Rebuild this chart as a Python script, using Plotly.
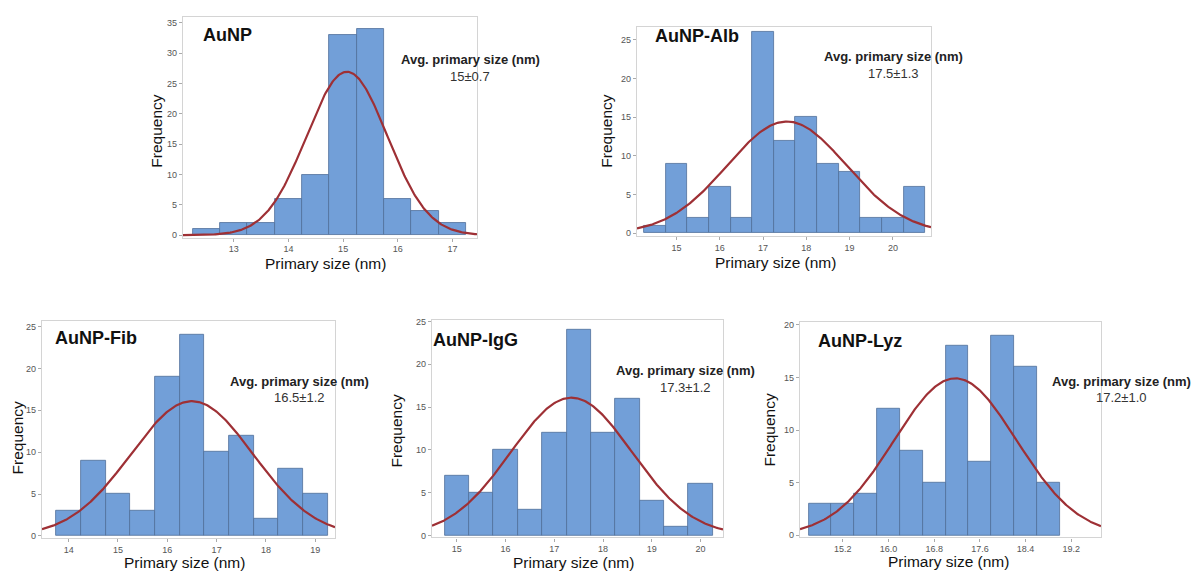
import numpy as np
import plotly.graph_objects as go

# The page body has an 8px default margin; the figure is drawn inside it.
OFF = 8
W, H = 1202 - OFF, 578 - OFF

# ---------------- data ----------------
names = ["AuNP", "AuNP-Alb", "AuNP-Fib", "AuNP-IgG", "AuNP-Lyz"]
avg_text = ["15±0.7", "17.5±1.3", "16.5±1.2", "17.3±1.2", "17.2±1.0"]

aunp_centers = [12.5, 13.0, 13.5, 14.0, 14.5, 15.0, 15.5, 16.0, 16.5, 17.0]
aunp_counts = [1, 2, 2, 6, 10, 33, 34, 6, 4, 2]

alb_centers = [14.5, 15.0, 15.5, 16.0, 16.5, 17.0, 17.5, 18.0, 18.5, 19.0, 19.5, 20.0, 20.5]
alb_counts = [1, 9, 2, 6, 2, 26, 12, 15, 9, 8, 2, 2, 6]

fib_centers = [14.0, 14.5, 15.0, 15.5, 16.0, 16.5, 17.0, 17.5, 18.0, 18.5, 19.0]
fib_counts = [3, 9, 5, 3, 19, 24, 10, 12, 2, 8, 5]

igg_centers = [15.0, 15.5, 16.0, 16.5, 17.0, 17.5, 18.0, 18.5, 19.0, 19.5, 20.0]
igg_counts = [7, 5, 10, 3, 12, 24, 12, 16, 4, 1, 6]

lyz_centers = [14.8, 15.2, 15.6, 16.0, 16.4, 16.8, 17.2, 17.6, 18.0, 18.4, 18.8]
lyz_counts = [3, 3, 4, 12, 8, 5, 18, 7, 19, 16, 5]

bin_widths = [0.5, 0.5, 0.5, 0.5, 0.4]
fit_means = [15.07, 17.55, 16.5, 17.35, 17.17]
fit_sds = [0.74, 1.38, 1.24, 1.24, 1.07]

x_ticks = [
    [13, 14, 15, 16, 17],
    [15, 16, 17, 18, 19, 20],
    [14, 15, 16, 17, 18, 19],
    [15, 16, 17, 18, 19, 20],
    [15.2, 16.0, 16.8, 17.6, 18.4, 19.2],
]
x_tick_text = [
    ["13", "14", "15", "16", "17"],
    ["15", "16", "17", "18", "19", "20"],
    ["14", "15", "16", "17", "18", "19"],
    ["15", "16", "17", "18", "19", "20"],
    ["15.2", "16.0", "16.8", "17.6", "18.4", "19.2"],
]
y_ticks = [
    [0, 5, 10, 15, 20, 25, 30, 35],
    [0, 5, 10, 15, 20, 25],
    [0, 5, 10, 15, 20, 25],
    [0, 5, 10, 15, 20, 25],
    [0, 5, 10, 15, 20],
]

centers_all = [aunp_centers, alb_centers, fib_centers, igg_centers, lyz_centers]
counts_all = [aunp_counts, alb_counts, fib_counts, igg_counts, lyz_counts]

# ---------------- layout geometry (page pixels) ----------------
frames = [
    (183, 477, 14, 237),
    (637, 931, 24, 235),
    (42, 335, 321, 541),
    (432, 723, 320, 540),
    (800, 1101, 322, 540),
]
x_ranges = [(12.07, 17.45), (14.09, 20.88), (13.46, 19.40), (14.49, 20.46), (14.45, 19.72)]
y_ranges = [(-0.4, 36.0), (-0.3, 26.7), (-0.3, 25.7), (-0.23, 25.2), (-0.2, 20.3)]

title_pos = [(201, 32), (653, 33), (53, 338), (431, 340), (816, 342)]
avg_pos = [(470, 57), (893, 54), (299, 382), (685, 371), (1121, 382)]
xlab_pos = [(325, 263), (775, 262), (184, 565), (573, 565), (949, 564)]
ylab_pos = [(157, 130), (607, 130), (17, 440), (397, 433), (770, 432)]

BAR_FILL = "#729fd8"
BAR_LINE = "#4f6f99"
CURVE = "#9e3035"
FRAME = "#d4d4d4"
FONT = "Liberation Sans, Arial, sans-serif"


def px(x):
    return (x - OFF) / W


def py(y):
    return 1 - (y - OFF) / H


fig = go.Figure()
annotations = []

for i in range(5):
    ax = "" if i == 0 else str(i + 1)
    xref, yref = "x" + ax, "y" + ax
    centers = centers_all[i]
    counts = counts_all[i]
    w = bin_widths[i]
    n = sum(counts)

    fig.add_trace(go.Bar(
        x=centers, y=counts, width=w,
        marker=dict(color=BAR_FILL, line=dict(color=BAR_LINE, width=0.8)),
        xaxis=xref, yaxis=yref, showlegend=False, hoverinfo="x+y",
    ))

    xs = np.linspace(x_ranges[i][0], x_ranges[i][1], 300)
    ys = n * w * np.exp(-0.5 * ((xs - fit_means[i]) / fit_sds[i]) ** 2) / (fit_sds[i] * np.sqrt(2 * np.pi))
    fig.add_trace(go.Scatter(
        x=xs, y=ys, mode="lines", line=dict(color=CURVE, width=2.2),
        xaxis=xref, yaxis=yref, showlegend=False, hoverinfo="skip",
    ))

    l, r, t, b = frames[i]
    common = dict(
        showline=True, linecolor=FRAME, linewidth=1.2, mirror=True,
        showgrid=False, zeroline=False,
        ticks="outside", ticklen=3, tickcolor="#aaaaaa",
        tickfont=dict(family=FONT, size=9, color="#555555"),
    )
    fig.update_layout(**{
        "xaxis" + ax: dict(domain=[px(l), px(r)], range=list(x_ranges[i]),
                           tickvals=x_ticks[i], ticktext=x_tick_text[i],
                           anchor=yref, **common),
        "yaxis" + ax: dict(domain=[py(b), py(t)], range=list(y_ranges[i]),
                           tickvals=y_ticks[i], anchor=xref, **common),
    })

    tx, ty = title_pos[i]
    annotations.append(dict(x=px(tx), y=py(ty), xref="paper", yref="paper",
                            text="<b>" + names[i] + "</b>", showarrow=False,
                            xanchor="left", yanchor="middle",
                            font=dict(family=FONT, size=18, color="#111111")))
    axx, axy = avg_pos[i]
    annotations.append(dict(x=px(axx), y=py(axy), xref="paper", yref="paper",
                            text="<b>Avg. primary size (nm)</b>", showarrow=False,
                            xanchor="center", yanchor="middle",
                            font=dict(family=FONT, size=13, color="#222222")))
    annotations.append(dict(x=px(axx), y=py(axy + 17), xref="paper", yref="paper",
                            text=avg_text[i], showarrow=False,
                            xanchor="center", yanchor="middle",
                            font=dict(family=FONT, size=13, color="#333333")))
    lx, ly = xlab_pos[i]
    annotations.append(dict(x=px(lx), y=py(ly), xref="paper", yref="paper",
                            text="Primary size (nm)", showarrow=False,
                            xanchor="center", yanchor="middle",
                            font=dict(family=FONT, size=15.5, color="#111111")))
    yx, yy = ylab_pos[i]
    annotations.append(dict(x=px(yx), y=py(yy), xref="paper", yref="paper",
                            text="Frequency", showarrow=False, textangle=-90,
                            xanchor="center", yanchor="middle",
                            font=dict(family=FONT, size=15.5, color="#111111")))

fig.update_layout(
    width=W, height=H,
    margin=dict(l=0, r=0, t=0, b=0),
    paper_bgcolor="white", plot_bgcolor="white",
    bargap=0, annotations=annotations,
    showlegend=False,
)

fig.write_html("out.html")
